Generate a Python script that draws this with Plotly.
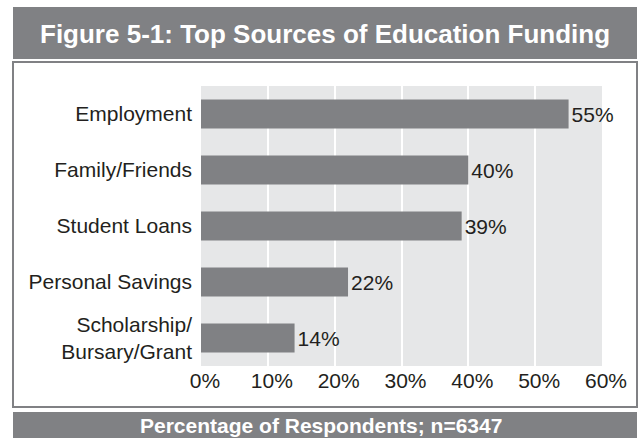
import plotly.graph_objects as go

# Funding sources and share of respondents (%)
sources = ["Employment", "Family/Friends", "Student Loans", "Personal Savings",
           "Scholarship/<br>Bursary/Grant"]
shares = [55, 40, 39, 22, 14]
x_ticks = [0, 10, 20, 30, 40, 50, 60]
x_tick_labels = ["0%", "10%", "20%", "30%", "40%", "50%", "60%"]

title_text = "Figure 5-1: Top Sources of Education Funding"
axis_text = "Percentage of Respondents; n=6347"

W, H = 639, 438
L, R, T, B = 201, 37, 86, 72
PW, PH = W - L - R, H - T - B

BAR = "#808184"
INK = "#231f20"
FONT = "Liberation Sans, Arial, Helvetica, sans-serif"


def px_x(p):
    return (p - L) / PW


def px_y(p):
    return (H - B - p) / PH


fig = go.Figure(go.Bar(
    x=shares,
    y=sources,
    orientation="h",
    marker=dict(color=BAR, line=dict(width=0)),
    text=[f"{v}%" for v in shares],
    textposition="outside",
    textfont=dict(size=21, color=INK, family=FONT),
    cliponaxis=False,
    constraintext="none",
))

shapes = [
    # title banner
    dict(type="rect", xref="paper", yref="paper", layer="below",
         x0=px_x(13), x1=px_x(637), y0=px_y(59), y1=px_y(7),
         fillcolor=BAR, line=dict(width=0)),
    # framed chart panel (outline only, so the plot background shows)
    dict(type="rect", xref="paper", yref="paper", layer="above",
         x0=px_x(13), x1=px_x(637), y0=px_y(407), y1=px_y(62),
         fillcolor="rgba(0,0,0,0)", line=dict(color=BAR, width=2)),
    # axis-title banner
    dict(type="rect", xref="paper", yref="paper", layer="below",
         x0=px_x(13), x1=px_x(637), y0=px_y(445), y1=px_y(412),
         fillcolor=BAR, line=dict(width=0)),
]

annotations = [
    dict(text=f"<b>{title_text}</b>", xref="paper", yref="paper",
         x=px_x(325), y=px_y(34), xanchor="center", yanchor="middle",
         showarrow=False, font=dict(size=26, color="white", family=FONT)),
    dict(text=f"<b>{axis_text}</b>", xref="paper", yref="paper",
         x=px_x(321), y=px_y(425), xanchor="center", yanchor="middle",
         showarrow=False, font=dict(size=21, color="white", family=FONT)),
]

fig.update_layout(
    width=W, height=H,
    margin=dict(l=L, r=R, t=T, b=B, pad=0),
    paper_bgcolor="white",
    plot_bgcolor="#e6e7e8",
    bargap=0.48,
    showlegend=False,
    shapes=shapes,
    annotations=annotations,
    font=dict(family=FONT, color=INK, size=21),
)

fig.update_xaxes(
    range=[0, 60],
    tickvals=x_ticks,
    ticktext=x_tick_labels,
    showgrid=True, gridcolor="white", gridwidth=2,
    zeroline=False, showline=False, ticks="",
    tickfont=dict(size=21, color=INK, family=FONT),
    ticklabelstandoff=0,
    ticklabelshift=4,
)

fig.update_yaxes(
    categoryorder="array",
    categoryarray=sources[::-1],
    showgrid=False, zeroline=False, showline=False, ticks="",
    tickfont=dict(size=21, color=INK, family=FONT),
    ticklabelstandoff=8,
)

fig.write_html("out.html")
